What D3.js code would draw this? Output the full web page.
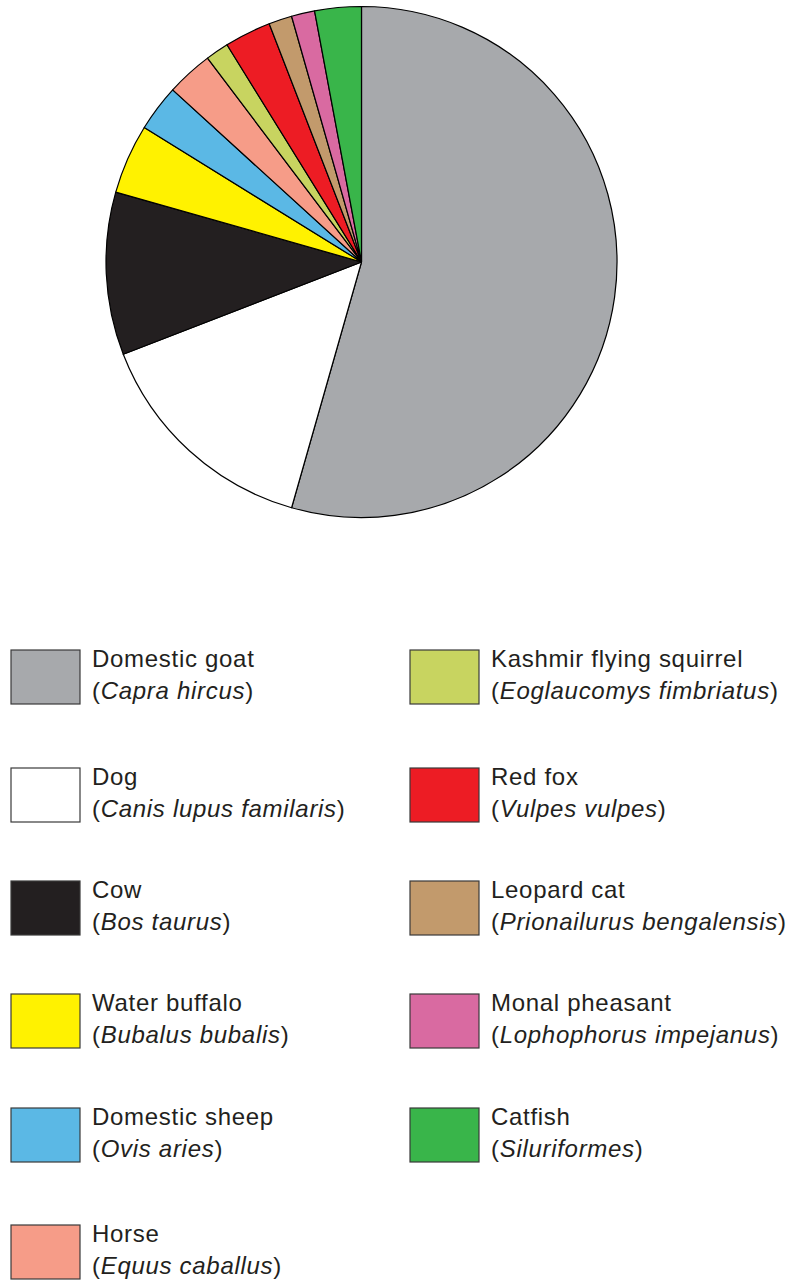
<!DOCTYPE html>
<html>
<head>
<meta charset="utf-8">
<script src="https://cdn.jsdelivr.net/npm/d3@7"></script>
<style>
  body { margin: 0; background: #fff; }
  svg { display: block; font-family: "Liberation Sans", Arial, sans-serif; }
</style>
</head>
<body>
<div id="chart"></div>
<script>
// species, in drawing order (clockwise from 12 o'clock)
var commonNames = ["Domestic goat", "Dog", "Cow", "Water buffalo", "Domestic sheep", "Horse",
                   "Kashmir flying squirrel", "Red fox", "Leopard cat", "Monal pheasant", "Catfish"];
var latinNames  = ["Capra hircus", "Canis lupus familaris", "Bos taurus", "Bubalus bubalis", "Ovis aries",
                   "Equus caballus", "Eoglaucomys fimbriatus", "Vulpes vulpes", "Prionailurus bengalensis",
                   "Lophophorus impejanus", "Siluriformes"];
var counts      = [37, 10, 7, 3, 2, 2, 1, 2, 1, 1, 2];
var colors      = ["#a7a9ac", "#ffffff", "#231f20", "#fff200", "#5bb8e5", "#f69c88",
                   "#c8d460", "#ed1c24", "#c29a6c", "#d96aa1", "#39b54a"];

var w = 793, h = 1281,
    cx = 361.5, cy = 262, r = 255.5;        // pie centre and radius

var svg = d3.select("#chart").append("svg")
    .attr("width", w)
    .attr("height", h);

var data = commonNames.map(function(d, i) {
    return { name: d, latin: latinNames[i], value: counts[i], color: colors[i] };
});

var pie = d3.pie()
    .sort(null)
    .value(function(d) { return d.value; });
var arc = d3.arc().innerRadius(0).outerRadius(r);

var gPie = svg.append("g")
    .attr("transform", "translate(" + cx + "," + cy + ")");

gPie.selectAll("path")
    .data(pie(data))
    .enter()
    .append("path")
    .attr("d", arc)
    .attr("fill", function(d) { return d.data.color; })
    .attr("stroke", "#000")
    .attr("stroke-width", 1.2)
    .attr("stroke-linejoin", "round");

// legend: two columns, goat..horse on the left, the rest on the right
var rowY = [650, 768, 881, 994, 1108, 1225],
    colX = [11, 410],
    boxW = 69, boxH = 54;

var legend = svg.selectAll(".legend")
    .data(data)
    .enter()
    .append("g")
    .attr("class", "legend")
    .attr("transform", function(d, i) {
        var col = i < 6 ? 0 : 1, row = i < 6 ? i : i - 6;
        return "translate(" + colX[col] + "," + rowY[row] + ")";
    });

legend.append("rect")
    .attr("width", boxW)
    .attr("height", boxH)
    .attr("fill", function(d) { return d.color; })
    .attr("stroke", "#3a3a3a")
    .attr("stroke-width", 1.2);

var label = legend.append("text")
    .attr("x", boxW + 12)
    .attr("fill", "#231f20")
    .attr("font-size", 24)
    .attr("letter-spacing", 0.7);

label.append("tspan")
    .attr("x", boxW + 12)
    .attr("y", 17)
    .text(function(d) { return d.name; });

var line2 = label.append("tspan")
    .attr("x", boxW + 12)
    .attr("y", 49);
line2.append("tspan").text("(");
line2.append("tspan").attr("font-style", "italic").text(function(d) { return d.latin; });
line2.append("tspan").text(")");
</script>
</body>
</html>
